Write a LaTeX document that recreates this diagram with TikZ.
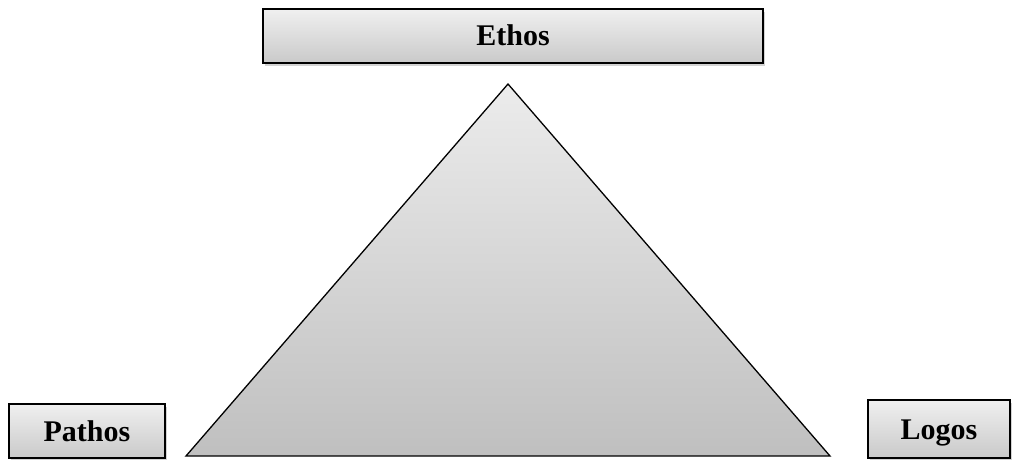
\documentclass[tikz,border=0pt]{standalone}
\usepackage{fontspec}
\setmainfont{Liberation Serif}
\usetikzlibrary{shadows}

\begin{document}
\begin{tikzpicture}[x=1pt,y=-1pt,
  label box/.style={draw=black,line width=1.6pt,top color=gray!12,bottom color=gray!42,
    drop shadow={shadow xshift=2pt,shadow yshift=-3pt,opacity=0.35},
    inner sep=0pt,text height=20pt,text depth=0pt,
    font=\fontsize{30}{32}\selectfont\bfseries}]
\useasboundingbox (0,0) rectangle (1012,460);
% the three appeals
\node[label box,minimum width=500pt,minimum height=54pt] (ethos) at (513,36) {Ethos};
\node[label box,minimum width=156pt,minimum height=54pt] (pathos) at (87,431) {Pathos};
\node[label box,minimum width=142pt,minimum height=58pt] (logos) at (939,429) {Logos};
% rhetorical triangle
\coordinate (apex) at (508,84);
\coordinate (left) at (186,456);
\coordinate (right) at (830,456);
\draw[line width=1.3pt,line join=miter,top color=gray!15,bottom color=gray!50]
  (apex) -- (left) -- (right) -- cycle;
\end{tikzpicture}
\end{document}
